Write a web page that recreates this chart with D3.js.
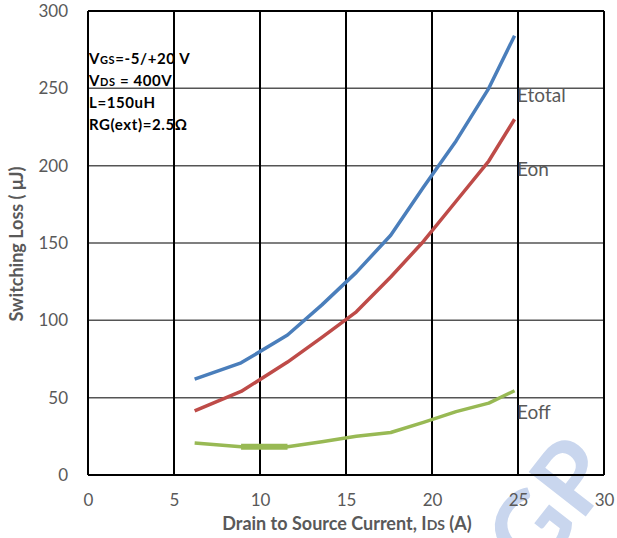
<!DOCTYPE html>
<html>
<head>
<meta charset="utf-8">
<script src="https://cdn.jsdelivr.net/npm/d3@7"></script>
<style>
  body { margin: 0; background: #fff; }
  #chart { width: 617px; height: 538px; }
  text { font-family: Lato, "Noto Sans", sans-serif; }
</style>
</head>
<body>
<div id="chart"></div>
<script>
// Switching loss vs drain current

// Data
const current = [6.2, 8.9, 11.6, 13.6, 15.6, 17.6, 19.5, 21.4, 23.3, 24.8];
const eTotal = [62, 72.5, 90.5, 110, 131, 155, 186, 216, 250, 284];
const eOn = [41.5, 54, 73, 89, 105.5, 128, 151, 177, 203, 230];
const eOff = [20.7, 18.3, 18.3, 21.5, 25, 27.5, 34, 41, 46.5, 54.5];
const xTicks = [0, 5, 10, 15, 20, 25, 30];
const yTicks = [0, 50, 100, 150, 200, 250, 300];
const seriesNames = ['Etotal', 'Eon', 'Eoff'];
const seriesColors = ['#4a7ebb', '#be4b48', '#98b954'];

let width = 617;
let height = 538;
let margin = { top: 11, right: 13, bottom: 63, left: 88 };

let svg = d3.select('#chart').append('svg')
  .attr('width', width)
  .attr('height', height);

let x = d3.scaleLinear().domain([0, 30]).range([margin.left, width - margin.right]);
let y = d3.scaleLinear().domain([0, 300]).range([height - margin.bottom, margin.top]);

// watermark (cut off at the corner, like the source)
svg.append('text')
  .attr('transform', `translate(536,580) rotate(-52)`)
  .attr('font-size', 100)
  .attr('font-weight', 'bold')
  .attr('fill', '#c9d6ee')
  .text('GP');

// horizontal grid
svg.append('g')
  .selectAll('line')
  .data(yTicks.slice(1, -1))
  .enter().append('line')
    .attr('x1', x(0)).attr('x2', x(30))
    .attr('y1', d => y(d)).attr('y2', d => y(d))
    .attr('stroke', '#555')
    .attr('stroke-width', 1.5);

// vertical grid + frame
svg.append('g')
  .selectAll('line')
  .data(xTicks)
  .enter().append('line')
    .attr('x1', d => x(d)).attr('x2', d => x(d))
    .attr('y1', y(0)).attr('y2', y(300))
    .attr('stroke', '#000')
    .attr('stroke-width', 2);

svg.append('line')
  .attr('x1', x(0)).attr('x2', x(30))
  .attr('y1', y(300)).attr('y2', y(300))
  .attr('stroke', '#000').attr('stroke-width', 2);

svg.append('line')
  .attr('x1', x(0)).attr('x2', x(30))
  .attr('y1', y(0)).attr('y2', y(0))
  .attr('stroke', '#000').attr('stroke-width', 2);

// axes labels
let yAxis = d3.axisLeft(y).tickValues(yTicks).tickSize(0).tickPadding(20);
svg.append('g')
  .attr('transform', `translate(${x(0)},0)`)
  .call(yAxis)
  .call(g => g.select('.domain').remove())
  .selectAll('text')
    .attr('font-size', 17)
    .attr('fill', '#595959')
    .attr('font-family', 'Lato, "Noto Sans", sans-serif');

let xAxis = d3.axisBottom(x).tickValues(xTicks).tickSize(0).tickPadding(19);
svg.append('g')
  .attr('transform', `translate(0,${y(0)})`)
  .call(xAxis)
  .call(g => g.select('.domain').remove())
  .selectAll('text')
    .attr('font-size', 17)
    .attr('fill', '#595959')
    .attr('font-family', 'Lato, "Noto Sans", sans-serif');

// lines
let line = d3.line()
  .x(d => x(d[0]))
  .y(d => y(d[1]));

let series = [eTotal, eOn, eOff].map(vals => current.map((c, i) => [c, vals[i]]));

svg.append('g')
  .selectAll('path')
  .data(series)
  .enter().append('path')
    .attr('d', line)
    .attr('fill', 'none')
    .attr('stroke', (d, i) => seriesColors[i])
    .attr('stroke-width', 3.5)
    .attr('stroke-linejoin', 'round');

// thicker flat bit of Eoff
svg.append('path')
  .attr('d', line(series[2].slice(1, 3)))
  .attr('stroke', seriesColors[2])
  .attr('stroke-width', 6);

// series labels
let labelY = [102, 176, 419];
svg.append('g')
  .selectAll('text')
  .data(seriesNames)
  .enter().append('text')
    .attr('x', x(25) - 1)
    .attr('y', (d, i) => labelY[i])
    .attr('font-size', 19)
    .attr('fill', '#595959')
    .text(d => d);

// conditions box
let cond = svg.append('g')
  .attr('font-size', 15)
  .attr('font-weight', 'bold')
  .attr('letter-spacing', 0.6)
  .attr('fill', '#000');

let l1 = cond.append('text').attr('x', x(0) + 1).attr('y', 64);
l1.append('tspan').text('V');
l1.append('tspan').attr('font-size', 11).text('GS');
l1.append('tspan').text('=-5/+20 V');

let l2 = cond.append('text').attr('x', x(0) + 1).attr('y', 86);
l2.append('tspan').text('V');
l2.append('tspan').attr('font-size', 11).text('DS');
l2.append('tspan').text(' = 400V');

cond.append('text').attr('x', x(0) + 1).attr('y', 108).text('L=150uH');
cond.append('text').attr('x', x(0) + 1).attr('y', 130).text('RG(ext)=2.5Ω');

// axis titles
let xt = svg.append('text')
  .attr('x', 347)
  .attr('y', 530)
  .attr('text-anchor', 'middle')
  .attr('font-size', 18)
  .attr('font-weight', 'bold')
  .attr('fill', '#595959');
xt.append('tspan').text('Drain to Source Current, I');
xt.append('tspan').attr('font-size', 14).text('DS');
xt.append('tspan').text(' (A)');

svg.append('text')
  .attr('transform', 'translate(23,244) rotate(-90)')
  .attr('text-anchor', 'middle')
  .attr('font-size', 18)
  .attr('font-weight', 'bold')
  .attr('fill', '#595959')
  .text('Switching Loss ( μJ)');
</script>
</body>
</html>
